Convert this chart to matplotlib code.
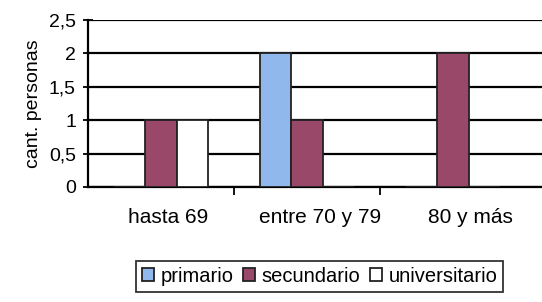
import numpy as np
import matplotlib.pyplot as plt

categorias = ['hasta 69', 'entre 70 y 79', '80 y más']
series = ['primario', 'secundario', 'universitario']
primario = [0, 2, 0]
secundario = [1, 1, 2]
universitario = [1, 0, 0]
y_ticks = [0, 0.5, 1, 1.5, 2, 2.5]
y_labels = ['0', '0,5', '1', '1,5', '2', '2,5']

plt.rcParams['font.family'] = ['Liberation Sans', 'DejaVu Sans']

fig = plt.figure(figsize=(5.42, 3.02), dpi=100)
ax = fig.add_axes([0.162, 0.381, 0.838, 0.553])

x = np.arange(len(categorias))
w = 0.215
colores = ['#90b8ec', '#9a486a', '#ffffff']
for i, (vals, col) in enumerate(zip([primario, secundario, universitario], colores)):
    ax.bar(x + (i - 1) * w, vals, w, color=col, edgecolor='#222222',
           linewidth=1.3, label=series[i], zorder=3)

ax.set_ylim(0, 2.5)
ax.set_xlim(-0.5, 2.61)
ax.set_yticks(y_ticks)
ax.set_yticklabels(y_labels, fontsize=14)
ax.yaxis.grid(True, color='black', linewidth=1.6, zorder=0)
ax.set_axisbelow(True)
ax.set_xticks([0.5, 1.5])
ax.set_xticklabels([])
# scanned original: labels sit slightly right of the bar groups
ax.set_xticks(x + np.array([0.05, 0.09, 0.12]), minor=True)
ax.set_xticklabels(categorias, minor=True, fontsize=15)
ax.tick_params(axis='x', which='minor', length=0, pad=15)
ax.tick_params(axis='x', which='major', length=6, width=1.3, color='black')
ax.tick_params(axis='y', direction='inout', length=7, width=1.3, pad=5)
ax.set_ylabel('cant. personas', fontsize=14, labelpad=5)

for s in ['top', 'right']:
    ax.spines[s].set_visible(False)
ax.spines['left'].set_linewidth(1.6)
ax.spines['bottom'].set_linewidth(1.6)

leg = fig.legend(loc='center', bbox_to_anchor=(0.59, 0.085), ncol=3,
                 fontsize=14.5, frameon=True, fancybox=False,
                 handlelength=0.6, handleheight=0.6, handletextpad=0.3,
                 columnspacing=0.5, borderpad=0.3)
leg.get_frame().set_edgecolor('black')
leg.get_frame().set_linewidth(1.3)

plt.savefig('out.png', dpi=100)
